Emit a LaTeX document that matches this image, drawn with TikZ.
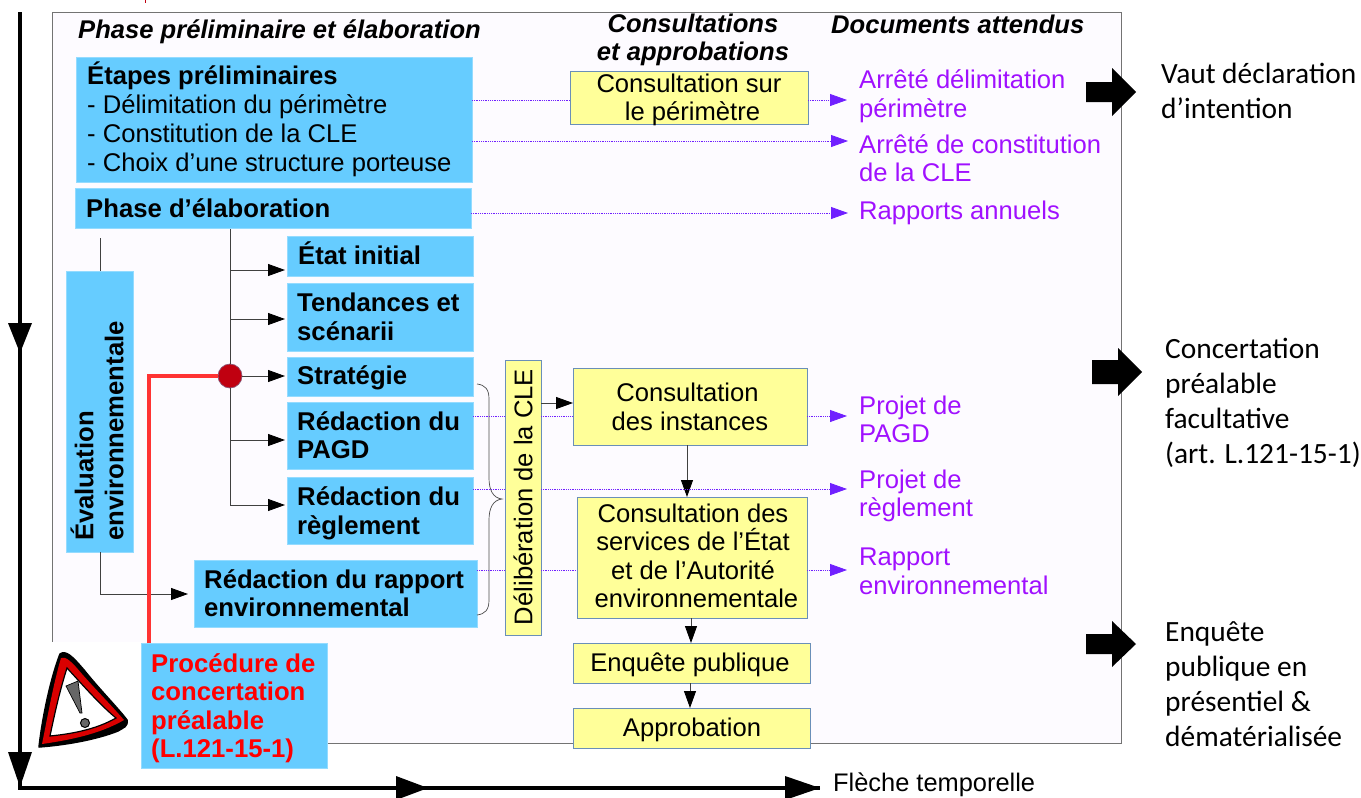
\documentclass[tikz,border=0pt]{standalone}
\usepackage{fontspec}
\setmainfont{Liberation Sans}
\newfontfamily\calib{Carlito}
\usetikzlibrary{arrows.meta}
\definecolor{bluebox}{HTML}{66CCFF}
\definecolor{yellowbox}{HTML}{FFFF99}
\definecolor{yellowedge}{HTML}{6A8FB8}
\definecolor{violettext}{HTML}{A010FF}
\definecolor{dotline}{HTML}{7020FF}
\definecolor{panel}{HTML}{FDFBFF}
\definecolor{darkred}{HTML}{C00010}
\newcommand{\fs}[1]{\fontsize{#1}{#1}\selectfont}
\tikzset{x=1pt,y=-1pt,
 blockbox/.style={fill=bluebox,draw=bluebox!70!white,line width=.8pt,inner sep=0pt,outer sep=0pt},
 yellownode/.style={fill=yellowbox,draw=yellowedge,line width=.9pt,inner sep=0pt,outer sep=0pt,align=center},
 bt/.style={anchor=west,align=left,inner sep=0pt,font=\fs{25.7}\bfseries},
 ct/.style={anchor=center,align=center,inner sep=0pt,font=\fs{25.6}},
 vt/.style={anchor=west,align=left,inner sep=0pt,font=\fs{25.6},text=violettext},
 rt/.style={anchor=west,align=left,inner sep=0pt,font=\calib\fs{29.4}},
 hd/.style={align=center,inner sep=0pt,font=\fs{25.6}\bfseries\itshape},
 flow/.style={draw=black!75,line width=.9pt,-{Triangle[length=17pt,width=12pt,black]}},
 plain/.style={draw=black!75,line width=.9pt},
 dots/.style={draw=dotline,line width=.8pt,densely dotted,-{Triangle[length=17pt,width=12pt,dotline]}},
 dotsplain/.style={draw=dotline,line width=.8pt,densely dotted},
 timeline/.style={draw=black,line width=3.6pt},
 bigarrow/.style={fill=black,draw=none},
}
\begin{document}
\begin{tikzpicture}
\useasboundingbox (0,0) rectangle (1361,798);
% panel
\node[draw=black!55,fill=panel,line width=.9pt,minimum width=1069pt,minimum height=731pt,inner sep=0pt,anchor=north west] (panelbox) at (52,12) {};
% warning background
\fill[white] (30,642) rectangle (142,760);
% timeline
\coordinate (vtop) at (20,12);
\coordinate (corner) at (20,788);
\coordinate (hend) at (820,788);
\draw[timeline] (vtop) -- (corner) -- (hend);
\fill[black] (8,323) -- (32,323) -- (20,353) -- cycle;
\fill[black] (8,752) -- (32,752) -- (20,787) -- cycle;
\fill[black] (396,776) -- (428,788) -- (396,800) -- cycle;
\fill[black] (785,776) -- (820,788) -- (785,800) -- cycle;
\fill[darkred] (144.5,0) rectangle (146,3);
% headers
\node[hd,anchor=west] (h1) at (78,32) {Phase préliminaire et élaboration};
\node[hd] (h2) at (693,40) {Consultations\\[2.4pt]et approbations};
\node[hd,anchor=west] (h3) at (831,24) {Documents attendus};
% blue boxes
\node[blockbox,minimum width=396pt,minimum height=125pt,anchor=north west] (etapes) at (76,57) {};
\node[bt,anchor=north west,align=left,font=\fs{25.6}] at (87,62) {\textbf{Étapes préliminaires}\\[3.2pt]- Délimitation du périmètre\\[3.2pt]- Constitution de la CLE\\[3.2pt]- Choix d’une structure porteuse};
\node[blockbox,minimum width=396pt,minimum height=40pt,anchor=north west] (phase) at (75,188) {};
\node[bt] at (86,208) {Phase d’élaboration};
\node[blockbox,minimum width=186pt,minimum height=40pt,anchor=north west] (etat) at (287,236) {};
\node[bt] at (298,253) {État initial};
\node[blockbox,minimum width=186pt,minimum height=68pt,anchor=north west] (tend) at (287,283) {};
\node[bt] at (297,317) {Tendances et\\[2.9pt]scénarii};
\node[blockbox,minimum width=186pt,minimum height=39pt,anchor=north west] (strat) at (287,357) {};
\node[bt] at (297,378) {Stratégie};
\node[blockbox,minimum width=186pt,minimum height=67pt,anchor=north west] (pagd) at (287,402) {};
\node[bt] at (297,435) {Rédaction du\\[2.9pt]PAGD};
\node[blockbox,minimum width=186pt,minimum height=67pt,anchor=north west] (regl) at (287,477) {};
\node[bt] at (297,513) {Rédaction du\\[2.9pt]règlement};
\node[blockbox,minimum width=283pt,minimum height=67pt,anchor=north west] (rapp) at (194,560) {};
\node[bt] at (204,593) {Rédaction du rapport\\[2.9pt]environnemental};
\node[blockbox,minimum width=67pt,minimum height=281pt,anchor=north west] (eval) at (66,271) {};
\node[rotate=90,align=left,inner sep=0pt,font=\fs{25.7}\bfseries,anchor=center] at (97,431) {Évaluation\\[4.3pt]environnementale};
\node[blockbox,minimum width=186pt,minimum height=125pt,anchor=north west] (proc) at (141,643) {};
\node[bt,anchor=north west,text=red] at (151,653) {Procédure de\\[2.9pt]concertation\\[2.9pt]préalable\\[2.9pt](L.121-15-1)};
% yellow boxes
\node[yellownode,minimum width=238pt,minimum height=53pt,anchor=north west] (cperim) at (570,71) {};
\node[ct] at (689,100) {Consultation sur\\[2.4pt]\hspace*{7pt}le périmètre};
\node[yellownode,minimum width=234pt,minimum height=77pt,anchor=north west] (cinst) at (573,368) {};
\node[ct] at (690,407) {Consultation\hspace*{5pt}\\[2.9pt]des instances};
\node[yellownode,minimum width=230pt,minimum height=121pt,anchor=north west] (cserv) at (577,497) {};
\node[ct] at (693,556) {Consultation des\\[2.9pt]services de l’État\\[2.9pt]et de l’Autorité\\[2.9pt]\hspace*{7pt}environnementale};
\node[yellownode,minimum width=237pt,minimum height=40pt,anchor=north west] (enq) at (573,643) {};
\node[ct] at (690,665) {Enquête publique};
\node[yellownode,minimum width=237pt,minimum height=40pt,anchor=north west] (appro) at (573,708) {};
\node[ct] at (692,730) {Approbation};
\node[yellownode,minimum width=36pt,minimum height=275pt,anchor=north west] (delib) at (505,360) {};
\node[rotate=90,inner sep=0pt,font=\fs{25.6}] at (523,497) {Délibération de la CLE};
% circle
\node[circle,fill=darkred,draw=yellowedge!60!darkred,line width=.7pt,minimum size=24pt,inner sep=0pt] (dot) at (230,376) {};
% black connectors
\coordinate (evalt) at (100,238);
\draw[plain] (evalt) -- (eval.north -| evalt);
\draw[flow] (100,552) -- (100,594) -- (188,594);
\coordinate (bus) at (230,229);
\draw[plain] (bus) -- (dot.north);
\draw[flow] (230,270) -- (285,270);
\draw[flow] (230,319) -- (285,319);
\draw[flow] (dot.east) -- (285,376);
\draw[plain] (dot.south) -- (230,505);
\draw[flow] (230,440) -- (285,440);
\draw[flow] (230,505) -- (285,505);
\draw[flow] (delib.east |- 0,403) -- (cinst.west |- 0,403);
\draw[flow] (cinst.south -| 687,0) -- (687,497);
\draw[flow] (691,618) -- (691,643);
\draw[flow] (690,683) -- (690,708);
% red connector
\coordinate (redb) at (149,643);
\draw[draw=red!80!white,line width=3.5pt] (redb) -- (149,376) -- (dot.west);
% brace
\draw[black!70,line width=.7pt] (477,384) .. controls (485,385) and (489,389) .. (489,399) -- (489,478) .. controls (489,490) and (493,498) .. (502,499) .. controls (493,500) and (489,508) .. (489,520) -- (489,600) .. controls (489,610) and (485,614) .. (477,615);
% dotted connectors
\coordinate (d1) at (847,100);
\draw[dotsplain] (etapes.east |- 0,100) -- (cperim.west |- 0,100);
\draw[dots] (cperim.east |- 0,100) -- (d1);
\draw[dots] (etapes.east |- 0,141) -- (848,141);
\draw[dots] (phase.east |- 0,213) -- (848,213);
\draw[dotsplain] (pagd.east |- 0,416) -- (delib.west |- 0,416);
\draw[dotsplain] (delib.east |- 0,416) -- (cinst.west |- 0,416);
\draw[dots] (cinst.east |- 0,416) -- (847,416);
\draw[dotsplain] (regl.east |- 0,489) -- (delib.west |- 0,489);
\draw[dots] (delib.east |- 0,489) -- (847,489);
\draw[dotsplain] (rapp.east |- 0,570) -- (delib.west |- 0,570);
\draw[dotsplain] (delib.east |- 0,570) -- (cserv.west |- 0,570);
\draw[dots] (cserv.east |- 0,570) -- (847,570);
% documents
\node[vt] at (859,96) {Arrêté délimitation\\[2.9pt]périmètre};
\node[vt] at (859,158) {Arrêté de constitution\\[2.9pt]de la CLE};
\node[vt] at (859,213) {Rapports annuels};
\node[vt] at (859,419.5) {Projet de\\[2.9pt]PAGD};
\node[vt] at (859,496) {Projet de\\[2.9pt]règlement};
\node[vt] at (859,571.5) {Rapport\\[2.9pt]environnemental};
% right side
\fill[bigarrow] (1086,82) -- (1112,82) -- (1112,68) -- (1136,92) -- (1112,116) -- (1112,102) -- (1086,102) -- cycle;
\fill[bigarrow] (1092,360) -- (1118,360) -- (1118,348) -- (1142,372) -- (1118,396) -- (1118,384) -- (1092,384) -- cycle;
\fill[bigarrow] (1086,634) -- (1112,634) -- (1112,621) -- (1136,644) -- (1112,667) -- (1112,654) -- (1086,654) -- cycle;
\node[rt] at (1161,91) {Vaut déclaration\\[5.8pt]d’intention};
\node[rt] at (1165,403) {Concertation\\[5.8pt]préalable\\[5.8pt]facultative\\[5.8pt](art. L.121-15-1)};
\node[rt] at (1165,684) {Enquête\\[5.8pt]publique en\\[5.8pt]présentiel \&\\[5.8pt]dématérialisée};
\node[anchor=west,inner sep=0pt,font=\fs{25.4}] at (833,785) {Flèche temporelle};
% warning sign
\fill[black,line join=round,draw=black,line width=1.5pt] (60,654) .. controls (66,650) and (72,656) .. (84,670) .. controls (100,690) and (118,708) .. (127,720) .. controls (128,727) and (124,727) .. (118,731) .. controls (95,740) and (65,745) .. (39,747) .. controls (42,720) and (50,680) .. (60,654) -- cycle;
\fill[red!85!black] (61,658) .. controls (66,656) and (72,662) .. (82,674) .. controls (98,692) and (112,706) .. (124,720) .. controls (100,734) and (70,740) .. (42,744) .. controls (47,720) and (53,685) .. (61,658) -- cycle;
\fill[white,draw=black,line width=1.2pt] (67,668) .. controls (80,682) and (100,705) .. (116,718) .. controls (95,730) and (70,734) .. (50,736) .. controls (55,712) and (60,690) .. (67,668) -- cycle;
\fill[black!60,draw=black,line width=.7pt] (66,686) -- (78,681) -- (82,713) -- (80,713) -- cycle;
\fill[black!60,draw=black,line width=1pt] (85,723) circle (4.5pt);
\end{tikzpicture}
\end{document}
